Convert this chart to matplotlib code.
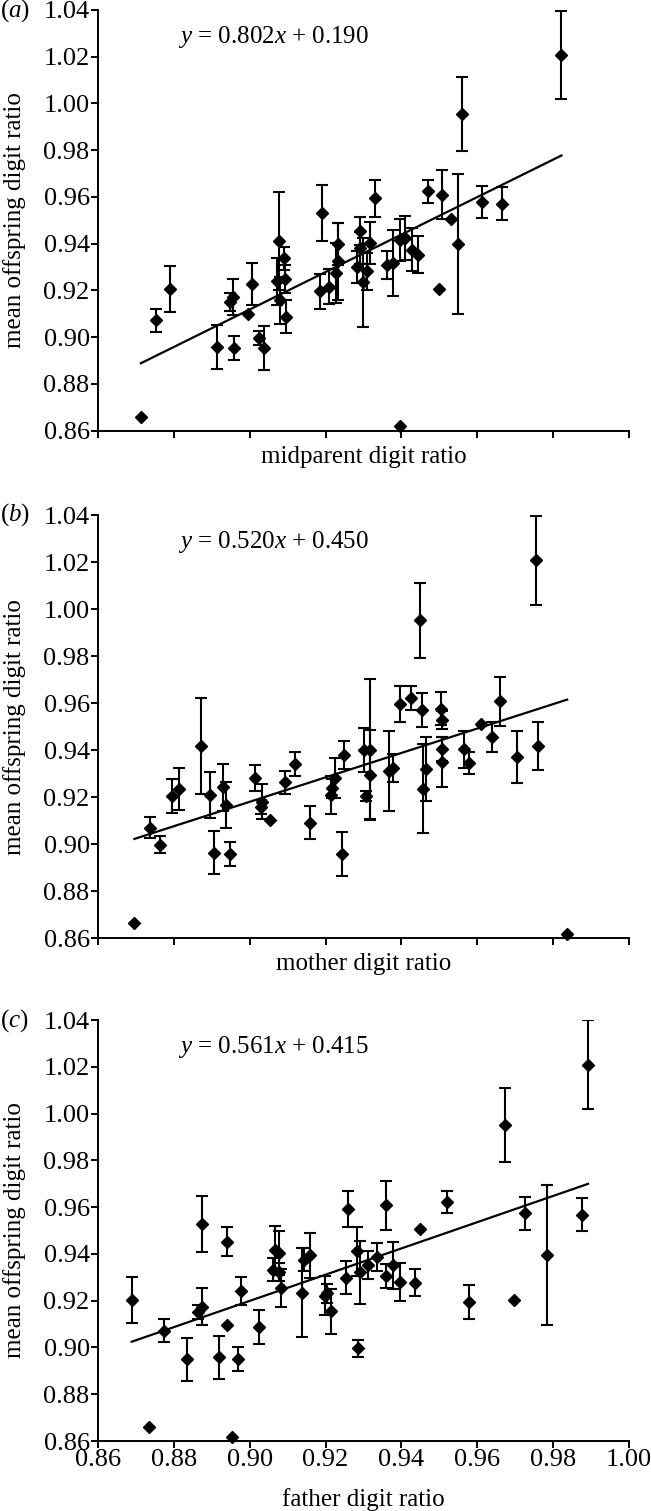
import numpy as np
import matplotlib
matplotlib.use('Agg')
import matplotlib.pyplot as plt

# (a) midparent digit ratio vs mean offspring digit ratio
mid_x = [0.8713, 0.8754, 0.8790, 0.8915, 0.8947, 0.8955, 0.8958, 0.8995, 0.9005, 0.9024,
         0.9038, 0.9078, 0.9090, 0.9071, 0.9080, 0.9095, 0.9093, 0.9190, 0.9185, 0.9210,
         0.9233, 0.9232, 0.9228, 0.9331, 0.9292, 0.9292, 0.9317, 0.9283, 0.9310, 0.9298,
         0.9363, 0.9377, 0.9397, 0.9410, 0.9428, 0.9443, 0.9471, 0.9507, 0.9532, 0.9550,
         0.9499, 0.9397, 0.9560, 0.9613, 0.9666, 0.9822]
mid_y = [0.8657, 0.9072, 0.9206, 0.8957, 0.9150, 0.9172, 0.8953, 0.9100, 0.9229, 0.8995,
         0.8953, 0.9412, 0.9337, 0.9239, 0.9158, 0.9087, 0.9250, 0.9531, 0.9196, 0.9215,
         0.9400, 0.9324, 0.9274, 0.9594, 0.9453, 0.9381, 0.9403, 0.9300, 0.9281, 0.9234,
         0.9307, 0.9317, 0.9417, 0.9424, 0.9374, 0.9353, 0.9624, 0.9610, 0.9507, 0.9400,
         0.9206, 0.8620, 0.9955, 0.9578, 0.9571, 1.0207]
mid_err = [0, 0.0050, 0.0100, 0.0094, 0.0040, 0.0077, 0.0050, 0, 0.0090, 0.0030,
           0.0093, 0.0210, 0.0050, 0.0100, 0.0100, 0.0070, 0.0060, 0.0120, 0.0075, 0.0075,
           0.0090, 0.0165, 0.0130, 0.0080, 0.0060, 0.0070, 0.0090, 0.0070, 0.0080, 0.0190,
           0.0060, 0.0140, 0.0090, 0.0095, 0.0093, 0.0080, 0.0050, 0.0105, 0, 0.0300,
           0, 0, 0.0160, 0.0070, 0.0070, 0.0190]

# (b) mother digit ratio
mother_x = [0.8696, 0.8738, 0.8763, 0.8796, 0.8814, 0.8871, 0.8895, 0.8906, 0.8929, 0.8937,
            0.8949, 0.9014, 0.9032, 0.9030, 0.9054, 0.9092, 0.9120, 0.9160, 0.9242, 0.9225,
            0.9216, 0.9214, 0.9249, 0.9300, 0.9318, 0.9307, 0.9318, 0.9367, 0.9377, 0.9396,
            0.9425, 0.9454, 0.9449, 0.9458, 0.9465, 0.9505, 0.9508, 0.9507, 0.9507, 0.9566,
            0.9578, 0.9610, 0.9639, 0.9660, 0.9704, 0.9761, 0.9756, 0.9837]
mother_y = [0.8665, 0.9070, 0.8998, 0.9205, 0.9235, 0.9418, 0.9209, 0.8963, 0.9242, 0.9166,
            0.8958, 0.9280, 0.9181, 0.9159, 0.9103, 0.9263, 0.9341, 0.9090, 0.8958, 0.9280,
            0.9237, 0.9210, 0.9380, 0.9401, 0.9401, 0.9205, 0.9295, 0.9310, 0.9325, 0.9595,
            0.9622, 0.9571, 0.9953, 0.9235, 0.9320, 0.9577, 0.9528, 0.9405, 0.9350, 0.9403,
            0.9345, 0.9511, 0.9455, 0.9608, 0.9370, 0.9418, 1.0209, 0.8618]
mother_err = [0, 0.0045, 0.0035, 0.0073, 0.0090, 0.0203, 0.0098, 0.0091, 0.0100, 0.0097,
              0.0050, 0.0055, 0.0075, 0.0030, 0, 0.0050, 0.0050, 0.0070, 0.0092, 0.0085,
              0.0040, 0.0080, 0.0060, 0.0095, 0.0300, 0.0020, 0.0190, 0.0170, 0.0060, 0.0076,
              0.0050, 0.0073, 0.0160, 0.0190, 0.0136, 0.0070, 0.0040, 0.0050, 0.0105, 0.0080,
              0.0045, 0, 0.0065, 0.0105, 0.0110, 0.0103, 0.0190, 0]

# (c) father digit ratio
father_x = [0.8689, 0.8734, 0.8774, 0.8835, 0.8864, 0.8873, 0.8873, 0.8920, 0.8941, 0.8941,
            0.8954, 0.8969, 0.8977, 0.9024, 0.9066, 0.9062, 0.9078, 0.9077, 0.9082, 0.9137,
            0.9144, 0.9160, 0.9198, 0.9205, 0.9213, 0.9255, 0.9259, 0.9282, 0.9285, 0.9290,
            0.9311, 0.9336, 0.9359, 0.9359, 0.9379, 0.9397, 0.9436, 0.9449, 0.9520, 0.9577,
            0.9698, 0.9785, 0.9726, 0.9673, 0.9875, 0.9892]
father_y = [0.9203, 0.8658, 0.9072, 0.8950, 0.9150, 0.9174, 0.9527, 0.8958, 0.9452, 0.9096,
            0.8619, 0.8950, 0.9242, 0.9089, 0.9418, 0.9333, 0.9405, 0.9322, 0.9255, 0.9234,
            0.9375, 0.9394, 0.9222, 0.9232, 0.9154, 0.9298, 0.9590, 0.9412, 0.8996, 0.9322,
            0.9352, 0.9385, 0.9608, 0.9305, 0.9352, 0.9280, 0.9277, 0.9505, 0.9622, 0.9195,
            0.9204, 0.9395, 0.9574, 0.9951, 0.9567, 1.0208]
father_err = [0.0100, 0, 0.0048, 0.0092, 0.0030, 0.0080, 0.0120, 0.0092, 0.0062, 0,
              0, 0.0050, 0.0060, 0.0073, 0.0100, 0.0050, 0.0095, 0.0040, 0.0080, 0.0190,
              0.0050, 0.0095, 0.0085, 0.0040, 0.0095, 0.0070, 0.0077, 0.0105, 0.0035, 0.0135,
              0.0060, 0.0060, 0.0105, 0.0050, 0.0100, 0.0080, 0.0057, 0, 0.0049, 0.0073,
              0, 0.0300, 0.0070, 0.0160, 0.0070, 0.0190]

fits = [(0.802, 0.190), (0.520, 0.450), (0.561, 0.415)]
fit_labels = ['0.802', '0.190', '0.520', '0.450', '0.561', '0.415']
letters = ['a', 'b', 'c']
xlabels = ['midparent digit ratio', 'mother digit ratio', 'father digit ratio']

left, width = 98 / 651, 531 / 651
axes_rects = [
    [left, 1 - 430.5 / 1511, width, 420.5 / 1511],
    [left, 1 - 938 / 1511, width, 422.7 / 1511],
    [left, 1 - 1441 / 1511, width, 421 / 1511],
]


def draw_panel(ax, x, y, err, fit, eq_text, xlabel, show_xticklabels):
    x = np.array(x)
    y = np.array(y)
    err = np.array(err)
    has_err = err > 0

    # error bars first, then the diamonds on top
    ax.errorbar(x[has_err], y[has_err], yerr=err[has_err], fmt='none',
                ecolor='black', elinewidth=1.5, capsize=4.6, capthick=1.5, zorder=2)
    ax.plot(x, y, 'D', color='black', markersize=6, zorder=3, clip_on=False)

    # regression line across the data range
    xs = np.array([x.min(), x.max()])
    ax.plot(xs, fit[0] * xs + fit[1], color='black', linewidth=1.6, zorder=2)

    ax.text(0.8812, 1.0285, eq_text, va='center', ha='left', fontsize=18)

    ax.set_xlim(0.86, 1.00)
    ax.set_ylim(0.86, 1.04)
    ax.set_xticks(np.arange(0.86, 1.0001, 0.02))
    ax.set_yticks(np.arange(0.86, 1.0401, 0.02))
    ax.yaxis.set_major_formatter(plt.FormatStrFormatter('%.2f'))
    ax.xaxis.set_major_formatter(plt.FormatStrFormatter('%.2f'))
    ax.tick_params(direction='out', length=5, width=1.4, pad=1, labelsize=19)
    ax.tick_params(axis='x', labelbottom=show_xticklabels)

    for side in ['top', 'right']:
        ax.spines[side].set_visible(False)
    for side in ['left', 'bottom']:
        ax.spines[side].set_linewidth(1.4)

    ax.set_ylabel('mean offspring digit ratio', fontsize=18)
    ax.yaxis.set_label_coords(-0.135, 0.5)
    ax.set_xlabel(xlabel, fontsize=18, labelpad=12 if show_xticklabels else 6)


def main():
    plt.rcParams['font.family'] = ['Liberation Serif', 'DejaVu Serif']
    plt.rcParams['mathtext.fontset'] = 'custom'
    plt.rcParams['mathtext.rm'] = 'Liberation Serif'
    plt.rcParams['mathtext.it'] = 'Liberation Serif:italic'

    fig = plt.figure(figsize=(6.51, 15.11), dpi=100)

    data = [(mid_x, mid_y, mid_err), (mother_x, mother_y, mother_err),
            (father_x, father_y, father_err)]
    label_y = [11, 515, 1021]

    for i in range(3):
        ax = fig.add_axes(axes_rects[i])
        eq = r'$y$ = ' + fit_labels[2 * i] + r'$x$ + ' + fit_labels[2 * i + 1]
        draw_panel(ax, *data[i], fits[i], eq, xlabels[i], i == 2)
        fig.text(0.0, 1 - label_y[i] / 1511, '($' + letters[i] + '$)',
                 ha='left', va='center', fontsize=18)

    fig.savefig('out.png', dpi=100)


if __name__ == '__main__':
    main()
